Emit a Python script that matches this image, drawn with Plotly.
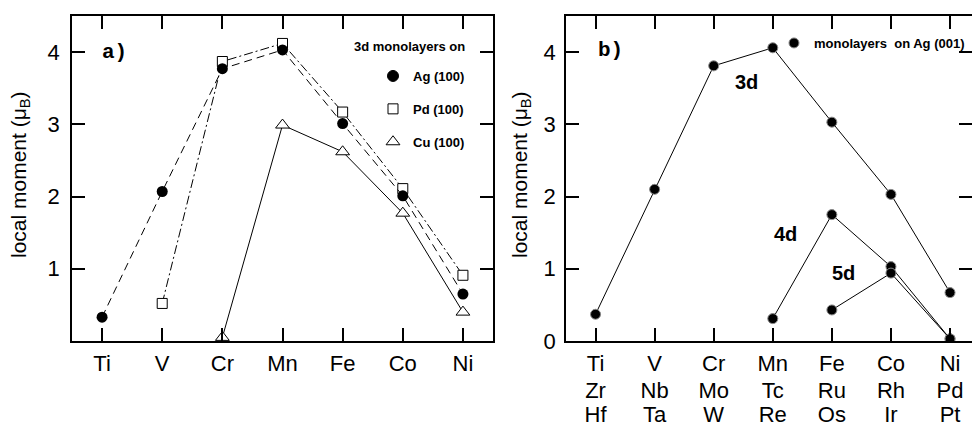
import plotly.graph_objects as go

# ---------------- data ----------------
elements_3d = ["Ti", "V", "Cr", "Mn", "Fe", "Co", "Ni"]
elements_4d = ["Zr", "Nb", "Mo", "Tc", "Ru", "Rh", "Pd"]
elements_5d = ["Hf", "Ta", "W", "Re", "Os", "Ir", "Pt"]

# panel a) 3d monolayers on different substrates
ag_elems = ["Ti", "V", "Cr", "Mn", "Fe", "Co", "Ni"]
ag_vals = [0.33, 2.07, 3.77, 4.03, 3.01, 2.01, 0.65]
pd_elems = ["V", "Cr", "Mn", "Fe", "Co", "Ni"]
pd_vals = [0.52, 3.87, 4.12, 3.17, 2.11, 0.91]
cu_elems = ["Cr", "Mn", "Fe", "Co", "Ni"]
cu_vals = [0.05, 2.99, 2.62, 1.77, 0.40]

# panel b) 3d, 4d, 5d monolayers on Ag(001)
b3d_elems = ["Ti", "V", "Cr", "Mn", "Fe", "Co", "Ni"]
b3d_vals = [0.37, 2.10, 3.81, 4.06, 3.03, 2.03, 0.67]
b4d_elems = ["Tc", "Ru", "Rh", "Pd"]
b4d_vals = [0.31, 1.75, 1.03, 0.03]
b5d_elems = ["Os", "Ir", "Pt"]
b5d_vals = [0.43, 0.94, 0.03]

yticks_a = [1, 2, 3, 4]
yticks_b = [0, 1, 2, 3, 4]

# ---------------- figure ----------------
W, H = 972, 423
FONT = "Liberation Sans, Arial, sans-serif"
fig = go.Figure()

def idx(names, table):
    return [table.index(n) for n in names]

# panel a traces
fig.add_trace(go.Scatter(
    x=idx(pd_elems, elements_3d), y=pd_vals, mode="lines+markers",
    line=dict(color="black", width=1, dash="9px,3px,2px,3px"),
    marker=dict(symbol="square", size=10, color="white",
                line=dict(color="black", width=1)),
    showlegend=False, xaxis="x", yaxis="y"))
fig.add_trace(go.Scatter(
    x=idx(ag_elems, elements_3d), y=ag_vals, mode="lines+markers",
    line=dict(color="black", width=1, dash="8px,5px"),
    marker=dict(symbol="circle", size=11, color="black"),
    showlegend=False, xaxis="x", yaxis="y"))
fig.add_trace(go.Scatter(
    x=idx(cu_elems, elements_3d), y=cu_vals, mode="lines+markers",
    line=dict(color="black", width=1),
    marker=dict(symbol="triangle-up", size=12, color="white",
                line=dict(color="black", width=1)),
    showlegend=False, xaxis="x", yaxis="y"))

# panel a legend entries (marker only)
for name, sym, fill, sz in [("Ag (100)", "circle", "black", 11),
                            ("Pd (100)", "square", "white", 10),
                            ("Cu (100)", "triangle-up", "white", 12)]:
    fig.add_trace(go.Scatter(
        x=[None], y=[None], mode="markers", name="<b>%s</b>" % name,
        legendgroup=name, legend="legend",
        marker=dict(symbol=sym, size=sz, color=fill,
                    line=dict(color="black", width=1)),
        xaxis="x", yaxis="y"))

# panel b traces
bmarker = dict(symbol="circle", size=10, color="black",
               line=dict(color="#888888", width=1))
for elems, vals, table in [(b3d_elems, b3d_vals, elements_3d),
                           (b4d_elems, b4d_vals, elements_4d),
                           (b5d_elems, b5d_vals, elements_5d)]:
    fig.add_trace(go.Scatter(
        x=idx(elems, table), y=vals, mode="lines+markers",
        line=dict(color="black", width=1), marker=bmarker,
        showlegend=False, xaxis="x2", yaxis="y2"))

fig.add_trace(go.Scatter(
    x=[None], y=[None], mode="markers", name="<b>monolayers  on Ag (001)</b>",
    legend="legend2", marker=bmarker, xaxis="x2", yaxis="y2"))

ydom = [82 / H, 407 / H]
tickfont = dict(family=FONT, size=22, color="black")
axis_common = dict(showline=True, linecolor="black", linewidth=1.5,
                   mirror="ticks", ticks="inside", ticklen=13, tickwidth=1.5,
                   tickcolor="black", showgrid=False, zeroline=False,
                   automargin=False, tickfont=tickfont)
xrange_b = [-0.5, 6.372]
xdom_b = [566 / W, 1.0]
extra_row = dict(domain=xdom_b, range=xrange_b, overlaying="x2", anchor="y2",
                 side="bottom", showline=False, ticks="", showgrid=False,
                 zeroline=False, automargin=False, tickfont=tickfont,
                 tickvals=list(range(len(elements_3d))))

fig.update_layout(
    width=W, height=H, margin=dict(l=0, r=0, t=0, b=0, pad=0, autoexpand=False),
    paper_bgcolor="white", plot_bgcolor="white",
    xaxis=dict(domain=[72 / W, 493 / W], range=[-0.5, 6.5],
               tickvals=list(range(len(elements_3d))), ticktext=elements_3d,
               ticklabelstandoff=2, anchor="y", **axis_common),
    yaxis=dict(domain=ydom, range=[0, 4.5], tickvals=yticks_a,
               ticklabelstandoff=6, anchor="x", **axis_common),
    xaxis2=dict(domain=xdom_b, range=xrange_b,
                tickvals=list(range(len(elements_3d))), ticktext=elements_3d,
                ticklabelstandoff=2, anchor="y2", **axis_common),
    xaxis3=dict(ticktext=elements_4d, ticklabelstandoff=34, **extra_row),
    xaxis4=dict(ticktext=elements_5d, ticklabelstandoff=58, **extra_row),
    yaxis2=dict(domain=ydom, range=[0, 4.5], tickvals=yticks_b,
                ticklabelstandoff=4, anchor="x2", **axis_common),
    legend=dict(x=470 / W, xanchor="right", y=1 - 61 / H, yanchor="top",
                font=dict(family=FONT, size=13, color="black"),
                bgcolor="rgba(0,0,0,0)", itemwidth=30, tracegroupgap=13,
                traceorder="grouped"),
    legend2=dict(x=970 / W, xanchor="right", y=1 - 28 / H, yanchor="top",
                 font=dict(family=FONT, size=13, color="black"),
                 bgcolor="rgba(0,0,0,0)", itemwidth=30),
    showlegend=True,
)

# invisible traces so the extra label rows are rendered
for ax in ["x3", "x4"]:
    fig.add_trace(go.Scatter(x=[None], y=[None], mode="markers", showlegend=False,
                             hoverinfo="skip", xaxis=ax, yaxis="y2"))

ann_font = dict(family=FONT, size=20, color="black")
ylab = "local moment (\u03bc<sub>B</sub>)"
for xc in [20, 521]:
    fig.add_annotation(text=ylab, xref="paper", yref="paper", x=xc / W, y=1 - 175 / H,
                       xanchor="center", yanchor="middle",
                       textangle=-90, showarrow=False,
                       font=dict(family=FONT, size=21, color="black"))
fig.add_annotation(text="<b>3d monolayers on</b>", xref="paper", yref="paper",
                   x=467 / W, y=1 - 46 / H, xanchor="right", yanchor="middle",
                   showarrow=False, font=dict(family=FONT, size=13, color="black"))
mono = dict(family="Liberation Mono, Courier New, monospace", size=21, color="black")
fig.add_annotation(text="<b>a)</b>", xref="x domain", yref="y domain",
                   x=0.066, y=0.889, xanchor="left", yanchor="middle",
                   showarrow=False, font=mono)
fig.add_annotation(text="<b>b)</b>", xref="x2 domain", yref="y2 domain",
                   x=0.075, y=0.895, xanchor="left", yanchor="middle",
                   showarrow=False, font=mono)
for txt, xv, yv in [("3d", 2.56, 3.58), ("4d", 3.22, 1.48), ("5d", 4.19, 0.945)]:
    fig.add_annotation(text="<b>%s</b>" % txt, xref="x2", yref="y2", x=xv, y=yv,
                       showarrow=False, font=ann_font)

fig.write_html(
    "out.html",
    config={"displayModeBar": False},
    post_script="document.body.style.margin='0';document.body.style.overflow='hidden';",
)
